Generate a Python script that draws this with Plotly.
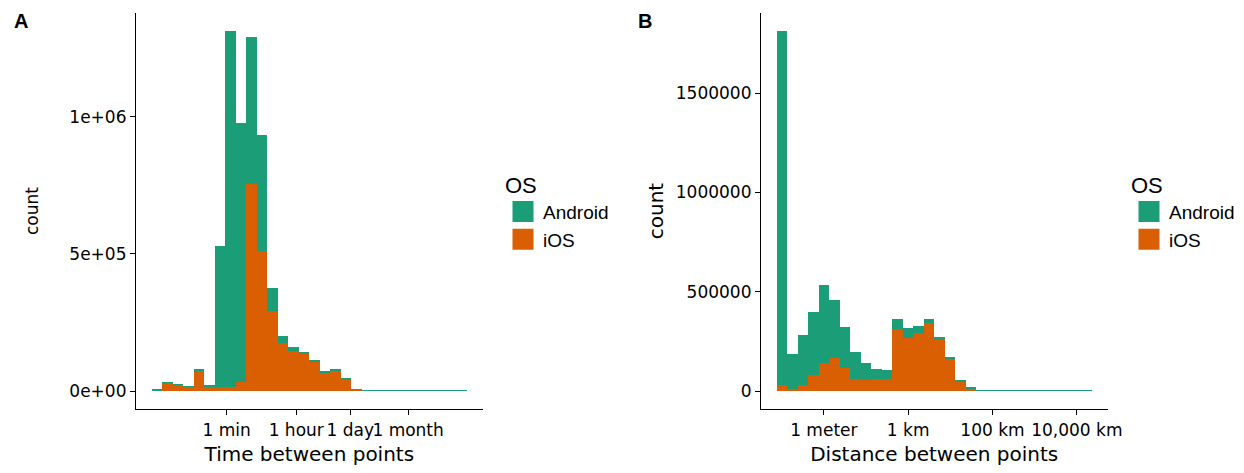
import plotly.graph_objects as go

# ---------------- Data ----------------
# Panel A: time between points, 30 log10(seconds) bins
time_bin_start = -0.133      # log10(seconds) of the first bin's left edge
time_bin_width = 0.2683      # bin width in log10 units
time_ios = [3000, 29200, 21900, 14600, 75400, 14600, 14600, 14600, 31600, 754300,
            511000, 292000, 175200, 146000, 133800, 105800, 66900, 73000, 40100, 4900,
            1200, 0, 0, 0, 0, 0, 0, 0, 0, 0]
time_android = [2000, 3600, 3600, 3600, 3600, 7300, 513400, 1298100, 945300, 536500,
                422100, 82700, 25500, 14600, 8500, 3700, 2400, 3600, 3700, 2400,
                2400, 3000, 3000, 3000, 3000, 3000, 3000, 3000, 3000, 3000]
time_tick_vals = [1.7782, 3.5563, 4.9365, 6.4137]   # log10 of 60 s, 3600 s, 86400 s, 30 days
time_tick_text = ["1 min", "1 hour", "1 day", "1 month"]
count_a_tick_vals = [0, 500000, 1000000]
count_a_tick_text = ["0e+00", "5e+05", "1e+06"]

# Panel B: distance between points, 30 bins on a log scale
dist_bin_start = -1.116
dist_bin_width = 0.2490
dist_ios = [30300, 10100, 30300, 80700, 141200, 164700, 114300, 60500, 53800, 60500,
            60500, 312600, 265500, 292400, 342900, 255500, 161300, 45400, 13400, 1700,
            1700, 0, 0, 0, 0, 0, 0, 0, 0, 0]
dist_android = [1782700, 174800, 250400, 315900, 391600, 292400, 206700, 136100, 87400, 50400,
                43700, 48700, 50500, 33700, 18400, 15100, 8400, 5000, 5100, 3300,
                3300, 4000, 4000, 4000, 4000, 4000, 4000, 4000, 4000, 4000]
dist_tick_vals = [0, 2, 4, 6]
dist_tick_text = ["1 meter", "1 km", "100 km", "10,000 km"]
count_b_tick_vals = [0, 500000, 1000000, 1500000]

os_names = ["Android", "iOS"]
os_colors = {"Android": "#1B9E77", "iOS": "#D95F02"}

# ---------------- Helpers ----------------
W, H = 1244, 473
TICK_FONT = dict(family="DejaVu Sans", size=17, color="#000000")
TITLE_FONT = dict(family="DejaVu Sans", size=20, color="#000000")
LEG_FONT = dict(family="Liberation Sans, Arial", size=19, color="#000000")


def centers(start, width, n):
    return [start + width * (i + 0.5) for i in range(n)]


def padded(lo, hi, frac=0.05):
    span = hi - lo
    return [lo - frac * span, hi + frac * span]


fig = go.Figure()

panels = [
    ("x", "y", "legend", time_bin_start, time_bin_width, time_ios, time_android),
    ("x2", "y2", "legend2", dist_bin_start, dist_bin_width, dist_ios, dist_android),
]
for xa, ya, leg, start, width, ios, android in panels:
    n = len(ios)
    xc = centers(start, width, n)
    for name, vals in (("iOS", ios), ("Android", android)):
        fig.add_trace(go.Bar(
            x=xc, y=vals, width=[width] * n, name=name,
            marker=dict(color=os_colors[name], line=dict(width=0)),
            xaxis=xa, yaxis=ya, showlegend=False, legendgroup=leg + name,
        ))
    # legend entries (large square keys as in the reference)
    for rank, name in enumerate(os_names):
        fig.add_trace(go.Scatter(
            x=[None], y=[None], mode="markers", name=name,
            marker=dict(symbol="square", size=16, color=os_colors[name],
                        line=dict(width=5, color=os_colors[name])),
            xaxis=xa, yaxis=ya, legend=leg, legendgroup=leg + name,
            legendrank=rank + 1, showlegend=True,
        ))

totals_a = [a + b for a, b in zip(time_ios, time_android)]
totals_b = [a + b for a, b in zip(dist_ios, dist_android)]

ydom = [1 - 409 / H, 1 - 13 / H]
axis_common = dict(showline=True, linecolor="#000000", linewidth=1.2, ticks="outside",
                   ticklen=5, tickwidth=1.2, tickcolor="#000000", showgrid=False,
                   zeroline=False, tickfont=TICK_FONT, automargin=False, tickangle=0)

fig.update_layout(
    width=W, height=H,
    margin=dict(l=0, r=0, t=0, b=0),
    paper_bgcolor="white", plot_bgcolor="white",
    barmode="stack", bargap=0,
    xaxis=dict(domain=[136 / W, 482.7 / W],
               range=padded(time_bin_start, time_bin_start + time_bin_width * len(time_ios)),
               tickvals=time_tick_vals, ticktext=time_tick_text,
               title=dict(text="Time between points", standoff=8, font=TITLE_FONT),
               anchor="y", **axis_common),
    yaxis=dict(domain=ydom, range=padded(0, max(totals_a)),
               tickvals=count_a_tick_vals, ticktext=count_a_tick_text,
               title=dict(text="count", standoff=26,
                          font=dict(family="DejaVu Sans", size=17, color="#000000")),
               anchor="x", **axis_common),
    xaxis2=dict(domain=[761 / W, 1107.5 / W],
                range=padded(dist_bin_start, dist_bin_start + dist_bin_width * len(dist_ios)),
                tickvals=dist_tick_vals, ticktext=dist_tick_text,
                title=dict(text="Distance between points", standoff=8, font=TITLE_FONT),
                anchor="y2", **axis_common),
    yaxis2=dict(domain=ydom, range=padded(0, max(totals_b)),
                tickvals=count_b_tick_vals, tickformat="d",
                title=dict(text="count", standoff=6, font=TITLE_FONT),
                anchor="x2", **axis_common),
    legend=dict(x=503 / W, y=1 - 164 / H, xanchor="left", yanchor="top",
                title=dict(text="OS", font=dict(family="Liberation Sans, Arial", size=22)),
                font=LEG_FONT, bgcolor="rgba(0,0,0,0)", tracegroupgap=0, itemsizing="trace"),
    legend2=dict(x=1129 / W, y=1 - 164 / H, xanchor="left", yanchor="top",
                 title=dict(text="OS", font=dict(family="Liberation Sans, Arial", size=22)),
                 font=LEG_FONT, bgcolor="rgba(0,0,0,0)", tracegroupgap=0, itemsizing="trace"),
    annotations=[
        dict(text="<b>A</b>", x=21 / W, y=1 - 20.5 / H, xref="paper", yref="paper",
             showarrow=False, xanchor="center", yanchor="middle",
             font=dict(family="Liberation Sans, Arial", size=20, color="#000000")),
        dict(text="<b>B</b>", x=645 / W, y=1 - 21 / H, xref="paper", yref="paper",
             showarrow=False, xanchor="center", yanchor="middle",
             font=dict(family="Liberation Sans, Arial", size=20, color="#000000")),
    ],
)

fig.write_html("out.html")
